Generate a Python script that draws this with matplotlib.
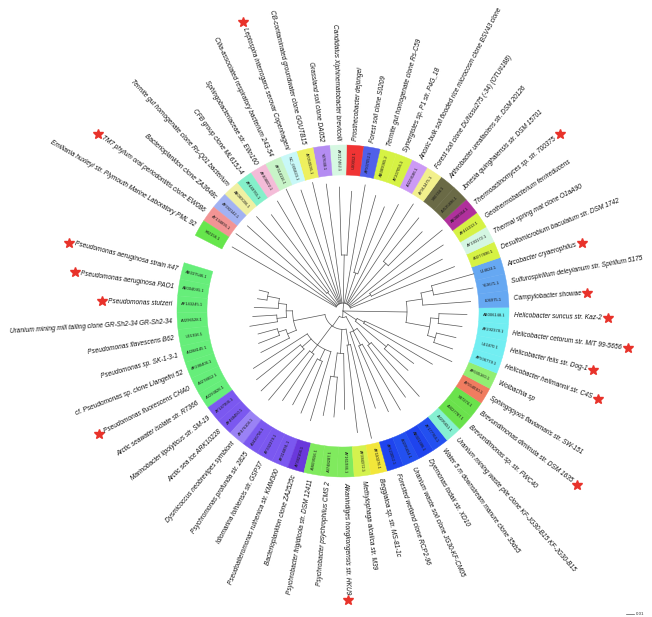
import numpy as np
import matplotlib
matplotlib.use("Agg")
import matplotlib.pyplot as plt
from matplotlib.patches import Wedge

# leaf names, in ring order (counter-clockwise from the left gap)
names = [
    "Pseudomonas aeruginosa strain #47",
    "Pseudomonas aeruginosa PAO1",
    "Pseudomonas stutzeri",
    "Uranium mining mill tailing clone GR-Sh2-34 GR-Sh2-34",
    "Pseudomonas flavescens B62",
    "Pseudomonas sp. SK-1-3-1",
    "cf. Pseudomonas sp. clone Llangefni 52",
    "Pseudomonas fluorescens CHA0",
    "Arctic seawater isolate str. R7366",
    "Marinobacter lipolyticus str. SM-19",
    "Arctic sea ice ARK10228",
    "Dysmicoccus neobrevipes symbiont",
    "Psychromonas profunda str. 2825",
    "Idiomarina loihiensis str. GSP37",
    "Pseudoalteromonas ruthenica str. KMM300",
    "Bacterioplankton clone ZA2525c",
    "Psychrobacter frigidicola str. DSM 12411",
    "Psychrobacter psychrophilus CMS 2",
    "Alkanindiges hongkongensis str. HKU9",
    "Methylophaga alcalica str. M39",
    "Beggiatoa sp. str. MS-81-1c",
    "Forested wetland clone RCP2-96",
    "Uranium waste soil clone JG30-KF-CM05",
    "Dyemonas todaii str. XD10",
    "Water 5 m downstream manure clone 35ds5",
    "Uranium mining waste pile clone KF-JG30-B15 KF-JG30-B15",
    "Brevundimonas sp. str. FWC40",
    "Brevundimonas diminuta str. DSM 1635",
    "Sphingopyxis flaviamaris str. SW-151",
    "Wolbachia sp",
    "Helicobacter heilmannii str. C4S",
    "Helicobacter felis str. Dog-1",
    "Helicobacter cetorum str. MIT 99-5656",
    "Helicobacter suncus str. Kaz-2",
    "Campylobacter showae",
    "Sulfurospirillum deleyianum str. Spirillum 5175",
    "Arcobacter cryaerophilus",
    "Desulfomicrobium baculatum str. DSM 1742",
    "Thermal spring mat clone O1aA90",
    "Geothermobacterium ferrireducens",
    "Thermoactinomyces sp. str. 700375",
    "Jonesia quinghaiensis str. DSM 15701",
    "Arthrobacter ureafaciens str. DSM 20126",
    "Forest soil clone DUNssu275 (-34) (OTU#188)",
    "Anoxic bulk soil flooded rice microcosm clone BSV43 clone",
    "Synergistes sp. P1 str. P4G_18",
    "Termite gut homogenate clone Rs-C59",
    "Forest soil clone S0209",
    "Prosthecobacter dejongei",
    "Candidatus Xiphinematobacter brevicolli",
    "Grassland soil clone DA052",
    "CB-contaminated groundwater clone GOUTB15",
    "Leptospira interrogans serovar Copenhageni",
    "Cilia-associated respiratory bacterium 243-54",
    "Sphingobacteriaceae str. Ellin160",
    "CFB group clone ML615J-4",
    "Termite gut homogenate clone Rs-Q01 bacterium",
    "Bacterioplankton clone ZA3648c",
    "TM7 phylum oral periodontitis clone EW086",
    "Emiliania huxleyi str. Plymouth Marine Laboratory PML 92",
]

accessions = [
    "AB037546.1", "AE004091.1", "AF143245.1", "AJ296528.1", "U01916.1",
    "AJ288145.1", "AF290406.1", "AJ278812.1", "AJ293826.1", "AY147906.1",
    "AF468450.1", "AF476104.1", "AJ416756.1", "AY332379.1", "AF316891.1",
    "AY382104.1", "AJ609556.1", "AJ748287.1", "AY161936.1", "AF384372.1",
    "AF110276.1", "AF523052.1", "AJ295654.1", "AB021386.1", "AY177764.1",
    "AJ295651.1", "AJ227787.1", "X87274.1", "AY554010.1", "AF035160.1",
    "AF506779.1", "U51870.1", "AF292378.1", "AB006148.1", "L06975.1",
    "Y13671.1", "L14624.1", "AJ277896.1", "AY193172.1", "AF411013.1",
    "AB088364.1", "AJ535896.1", "X80744.1", "AY913475.1", "AJ229186.1",
    "AY207056.1", "AB089065.2", "AF507052.1", "U60012.1", "AF217462.1",
    "Y07648.1", "AY050595.1", "NC_005823.1", "AF314116.1", "AF408002.1",
    "AF449765.1", "AB089006.1", "AF382142.1", "AY134895.1", "X82156.1",
]

ring_colors = (
    ["#66ee7a"] * 9
    + ["#7b58f0", "#7b58f0", "#9a82f5", "#7b58f0", "#7b58f0", "#7b58f0", "#6a38dc"]
    + ["#80ea5e"] * 3
    + ["#d4f24e", "#f2e63a"]
    + ["#1f44ee", "#2350f0", "#1f44ee", "#2350f0"]
    + ["#86f0d2", "#6ae24c", "#6ae24c", "#f07c60", "#92ee72"]
    + ["#72eef2"] * 4
    + ["#66a8f2"] * 3
    + ["#d6f244", "#d4f6e2", "#d6f244", "#b0309c", "#6a6a46", "#6a6a46",
       "#f2f08c", "#cc9af5", "#d6f244", "#d6f244", "#5060ea", "#f03434",
       "#d6f8e2", "#b48cf2", "#eef05e", "#c8f8f8", "#c8f4c8", "#f4bcd8",
       "#84f0ca", "#f0f0a2", "#a2b2f2", "#f29494", "#66e64c"]
)

starred = [0, 1, 2, 7, 18, 27, 30, 31, 32, 33, 34, 36, 40, 52, 58]

# tree topology with branch lengths (substitutions/site); leaves are indices into names
tree_newick = (
    "((("
    "((((0:0.012,1:0.012):0.015,2:0.03):0.01,(3:0.03,4:0.035):0.012):0.008,"
    "((5:0.025,6:0.028):0.01,7:0.04):0.012):0.04,"
    "(8:0.08,(9:0.07,10:0.075):0.015,(11:0.08,12:0.07):0.012,"
    "(13:0.065,14:0.07):0.015,15:0.09):0.03,"
    "((16:0.05,17:0.05):0.03,18:0.07):0.03,"
    "(19:0.11,20:0.12):0.02):0.015,"
    "(21:0.1,(22:0.09,23:0.095):0.02,(24:0.08,25:0.09):0.025):0.02):0.008,"
    "((26:0.04,27:0.04):0.05,(28:0.1,29:0.12):0.01):0.02,"
    "(((30:0.025,31:0.025):0.01,(32:0.03,33:0.035):0.01):0.03,"
    "(34:0.06,(35:0.05,36:0.055):0.015):0.02):0.08,"
    "(37:0.14,(38:0.1,39:0.11):0.03,40:0.15,(41:0.06,42:0.07):0.07,43:0.15,44:0.14,"
    "(45:0.09,46:0.1):0.04,47:0.15,(48:0.08,49:0.085):0.06,50:0.15,51:0.155,52:0.15,"
    "53:0.158,54:0.15,(55:0.12,56:0.13):0.02,57:0.15,58:0.155,59:0.15):0.01)"
)

cx, cy = 343, 306
first_angle, step = 166.0, 5.83
r_in, r_out = 136, 166
r_name = 171
px_per_unit = 800


def parse(s):
    pos = 0

    def node():
        nonlocal pos
        children, leaf = [], None
        if s[pos] == "(":
            pos += 1
            while True:
                children.append(node())
                if s[pos] == ",":
                    pos += 1
                else:
                    pos += 1
                    break
        else:
            start = pos
            while s[pos] not in ":,)":
                pos += 1
            leaf = int(s[start:pos])
        length = 0.0
        if pos < len(s) and s[pos] == ":":
            pos += 1
            start = pos
            while pos < len(s) and s[pos] not in ",)":
                pos += 1
            length = float(s[start:pos])
        return {"leaf": leaf, "children": children, "len": length}

    return node()


def layout(n, r0):
    n["r"] = r0 + n["len"] * px_per_unit
    if n["leaf"] is not None:
        n["a"] = first_angle + n["leaf"] * step
    else:
        for c in n["children"]:
            layout(c, n["r"])
        n["a"] = (n["children"][0]["a"] + n["children"][-1]["a"]) / 2


def pol(r, a):
    t = np.radians(a)
    return cx + r * np.cos(t), cy + r * np.sin(t)


def draw(ax, n):
    if not n["children"]:
        return
    a0, a1 = n["children"][0]["a"], n["children"][-1]["a"]
    if n["r"] > 0:
        arc = np.linspace(a0, a1, 50)
        x, y = pol(n["r"], arc)
        ax.plot(x, y, color="#555555", lw=0.5)
    for c in n["children"]:
        x0, y0 = pol(n["r"], c["a"])
        x1, y1 = pol(c["r"], c["a"])
        ax.plot([x0, x1], [y0, y1], color="#555555", lw=0.5)
        draw(ax, c)


root = parse(tree_newick)
layout(root, 0.0)

fig = plt.figure(figsize=(6.52, 6.17), dpi=100)
ax = fig.add_axes([0, 0, 1, 1])
ax.set_xlim(0, 652)
ax.set_ylim(0, 617)
ax.axis("off")

draw(ax, root)

name_texts = []
for i, (nm, acc, col) in enumerate(zip(names, accessions, ring_colors)):
    a = first_angle + i * step
    ax.add_patch(Wedge((cx, cy), r_out, a - step / 2, a + step / 2,
                       width=r_out - r_in, facecolor=col, edgecolor=col, lw=0.3))
    am = a % 360
    flip = 90 < am < 270
    rot = am - 180 if flip else am
    x, y = pol((r_in + r_out) / 2, a)
    ax.text(x, y, acc, rotation=rot, rotation_mode="anchor", ha="center",
            va="center", fontsize=3.0, family="Liberation Sans", color="#1a1a1a")
    x, y = pol(r_name, a)
    t = ax.text(x, y, nm, rotation=rot, rotation_mode="anchor",
                ha="right" if flip else "left", va="center", fontsize=4.7,
                family="Liberation Sans", style="italic", color="#111111")
    name_texts.append(t)

fig.canvas.draw()
renderer = fig.canvas.get_renderer()
for i in starred:
    t = name_texts[i]
    w, h, d = renderer.get_text_width_height_descent(t.get_text(), t.get_fontproperties(), ismath=False)
    x, y = pol(r_name + w + 6, first_angle + i * step)
    ax.plot(x, y, marker="*", color="#e8322a", ms=7, mec="#e8322a")

# scale bar
ax.plot([626, 626 + 0.01 * px_per_unit], [3, 3], color="#555555", lw=0.5)
ax.text(636, 3, "0.01", fontsize=3.2, family="Liberation Sans", va="center", color="#333333")

fig.savefig("out.png", dpi=100)
